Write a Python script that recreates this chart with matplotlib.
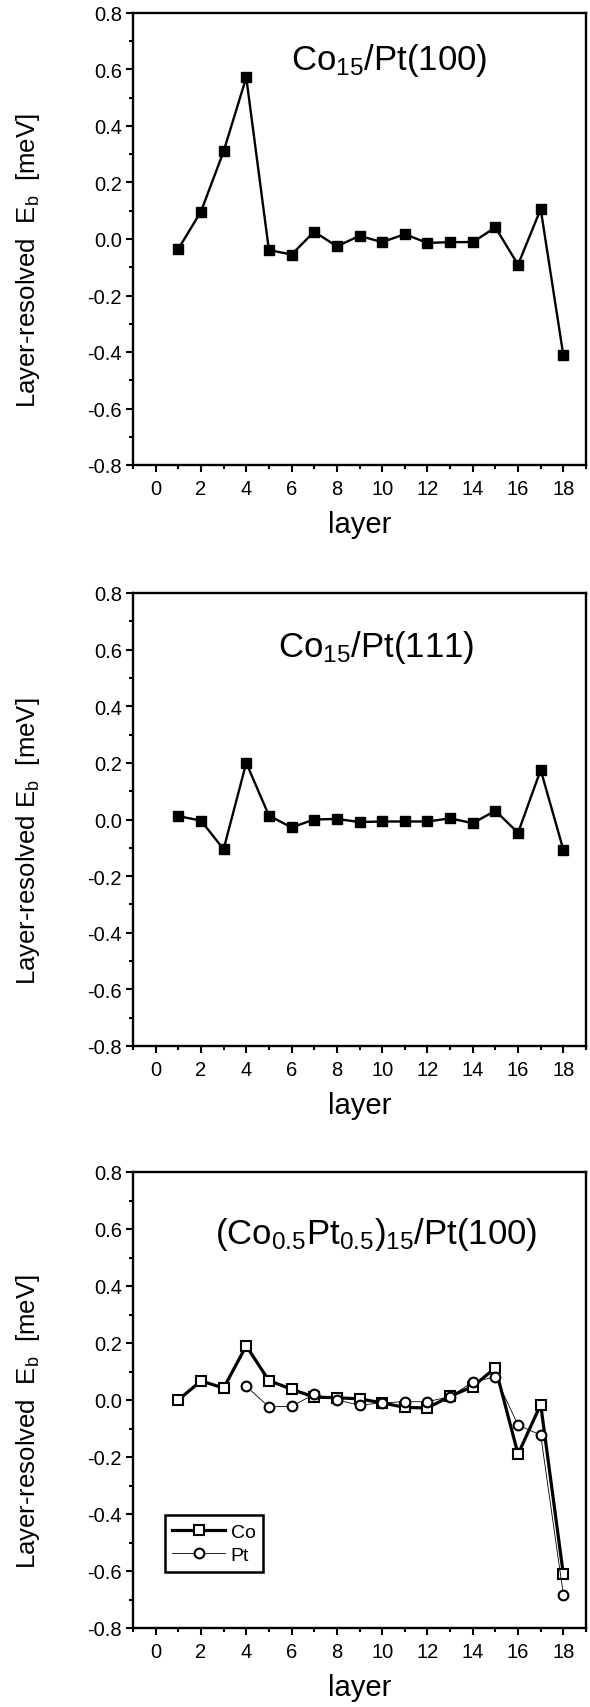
import numpy as np
import matplotlib
matplotlib.use("Agg")
import matplotlib.pyplot as plt
from matplotlib.ticker import MultipleLocator

plt.rcParams['font.family'] = ['Liberation Sans', 'DejaVu Sans']
plt.rcParams['mathtext.default'] = 'regular'

# data
layers = np.arange(1, 19)
eb_co_pt100 = [-0.035, 0.097, 0.31, 0.572, -0.039, -0.055, 0.026, -0.026, 0.011,
               -0.011, 0.017, -0.014, -0.011, -0.011, 0.041, -0.091, 0.106, -0.412]
eb_co_pt111 = [0.012, -0.004, -0.105, 0.2, 0.014, -0.028, 0.0, 0.002, -0.009,
               -0.007, -0.007, -0.007, 0.004, -0.013, 0.031, -0.047, 0.175, -0.107]
layers_pt = np.arange(4, 19)
eb_alloy_co = [0.0, 0.067, 0.042, 0.19, 0.068, 0.038, 0.01, 0.008, 0.004,
               -0.01, -0.026, -0.028, 0.013, 0.047, 0.113, -0.19, -0.016, -0.612]
eb_alloy_pt = [0.048, -0.024, -0.022, 0.02, 0.0, -0.018, -0.01, -0.006, -0.006,
               0.012, 0.063, 0.081, -0.088, -0.123, -0.683]

titles = [r'Co$_{15}$/Pt(100)', r'Co$_{15}$/Pt(111)',
          r'(Co$_{0.5}$Pt$_{0.5}$)$_{15}$/Pt(100)']
ylabels = [r'Layer-resolved  E$_b$  [meV]', r'Layer-resolved E$_b$  [meV]',
           r'Layer-resolved  E$_b$  [meV]']
title_pos = [(0.565, 0.876), (0.537, 0.861), (0.537, 0.844)]

fig = plt.figure(figsize=(5.9, 17.08), dpi=100)
left, width = 133 / 590, 453 / 590
bottoms = [1 - 466 / 1708, 1 - 1047 / 1708, 1 - 1629 / 1708]
heights = [452 / 1708, 453 / 1708, 456 / 1708]

axs = []
for i in range(3):
    ax = fig.add_axes([left, bottoms[i], width, heights[i]])
    ax.set_xlim(-1, 19)
    ax.set_ylim(-0.8, 0.8)
    ax.xaxis.set_major_locator(MultipleLocator(2))
    ax.xaxis.set_minor_locator(MultipleLocator(1))
    ax.yaxis.set_major_locator(MultipleLocator(0.2))
    ax.yaxis.set_minor_locator(MultipleLocator(0.1))
    ax.yaxis.set_major_formatter(lambda v, p: f"{v:.1f}")
    ax.tick_params(which='both', direction='out', top=False, right=False, width=1.5)
    ax.tick_params(which='major', length=5, labelsize=14.5)
    ax.tick_params(axis='y', which='major', pad=3)
    ax.tick_params(axis='x', which='major', pad=5)
    ax.tick_params(which='minor', length=3)
    for s in ax.spines.values():
        s.set_linewidth(1.7)
    ax.set_xlabel('layer', fontsize=21, labelpad=9)
    ax.set_ylabel(ylabels[i], fontsize=18.5)
    ax.yaxis.set_label_coords(-0.2, 0.455)
    ax.text(title_pos[i][0], title_pos[i][1], titles[i], transform=ax.transAxes,
            ha='center', va='baseline', fontsize=25)
    axs.append(ax)

axs[0].plot(layers, eb_co_pt100, color='k', lw=1.7, marker='s', ms=6.5)
axs[1].plot(layers, eb_co_pt111, color='k', lw=1.7, marker='s', ms=6.5)

axs[2].plot(layers, eb_alloy_co, color='k', lw=2.3, marker='s', ms=6.5,
            mfc='white', mec='k', mew=1.5, label='Co', zorder=3)
axs[2].plot(layers_pt, eb_alloy_pt, color='k', lw=0.6, marker='o', ms=7,
            mfc='white', mec='k', mew=1.5, label='Pt', zorder=4)
leg = axs[2].legend(loc='lower left', bbox_to_anchor=(0.07, 0.123), fontsize=14,
                    frameon=True, fancybox=False, edgecolor='k', framealpha=1,
                    handlelength=2.7, borderpad=0.4, labelspacing=0.3,
                    handletextpad=0.3, borderaxespad=0)
leg.get_frame().set_linewidth(1.8)

fig.savefig('out.png', dpi=100)
